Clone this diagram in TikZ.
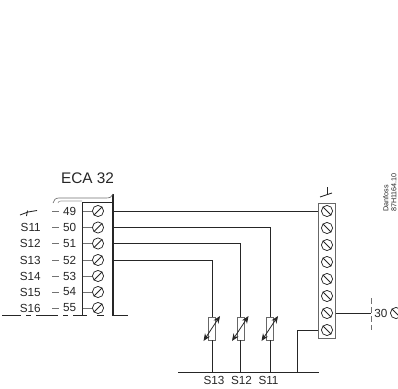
\documentclass[tikz,border=0pt]{standalone}
\usepackage{fontspec}
\setmainfont{Liberation Sans}
\usetikzlibrary{arrows.meta}
\definecolor{ink}{gray}{0.15}
\tikzset{
  wire/.style={draw=ink,line width=0.65pt},
  thin wire/.style={draw=ink!65,line width=0.5pt},
  lbl/.style={font=\fontsize{8.8pt}{9pt}\selectfont,text=ink,inner sep=0pt},
  term/.style={circle,draw=ink,line width=0.55pt,minimum size=8.4pt,inner sep=0pt},
  res/.style={draw=ink!70,fill=white,line width=0.5pt,minimum width=5.2pt,minimum height=17pt,inner sep=0pt},
  vararrow/.style={draw=ink,line width=0.6pt,{Stealth[length=5.5pt,width=4.5pt]}-{Stealth[length=5.5pt,width=4.5pt]}},
}
\begin{document}
\begin{tikzpicture}[x=0.75pt,y=-0.75pt]
\useasboundingbox (0,0) rectangle (398,388);
% left terminal strip
\coordinate (ltl) at (82.5,202.5);
\coordinate (ltr) at (113,202.5);
\coordinate (lbl1) at (82.5,315);
\coordinate (lbr) at (113,315);
\coordinate (lbt) at (113,194);
\draw[wire,line width=0.8pt] (lbl1) -- (ltl) -- (ltr);
\draw[wire,line width=1.1pt] (lbt) -- (lbr);
% brace
\draw[thin wire] (53,203) .. controls (54,200) and (55,198) .. (59,198) -- (106,198) .. controls (110,198) and (112,197) .. (113,194);
\draw[thin wire,draw=ink!45] (58,203) .. controls (58,202) and (59,201) .. (61,201) -- (82,201);
\node[lbl,font=\fontsize{11.5pt}{12pt}\selectfont] (title) at (87.5,178) {ECA 32};
% left terminals
\foreach \n/\y/\s in {49/211/,50/227.5/S11,51/243.5/S12,52/260/S13,53/276/S14,54/292/S15,55/308/S16}{
  \node[term] (t\n) at (98,\y) {};
  \draw[line width=0.55pt,draw=ink] (t\n.south west) -- (t\n.north east);
  \coordinate (tl\n) at (83,\y);
  \draw[thin wire] (tl\n) -- (t\n.west);
  \node[lbl,anchor=east] (n\n) at (76.5,\y) {\n};
  \coordinate (da\n) at (52,\y);
  \coordinate (db\n) at (59,\y);
  \draw[thin wire] (da\n) -- (db\n);
  \node[lbl,anchor=east] (s\n) at (41,\y) {\s};
}
% bottom broken line
\foreach \a/\b in {2/21,26/31,36/58,63/68,73/87,97/104,112/128}{
  \coordinate (ba\a) at (\a,315);
  \coordinate (bb\a) at (\b,315);
  \draw[wire] (ba\a) -- (bb\a);
}
% left ground symbol
\coordinate (ga) at (20,215);\coordinate (gb) at (28,212);\coordinate (gc) at (37,210.5);
\draw[wire] (ga) -- (gb) -- (gc);
\draw[wire] (27.5,210.5) -- (26.5,216);
% right terminal strip
\node[draw=ink!70,line width=0.7pt,minimum width=12.8pt,minimum height=101.5pt,inner sep=0pt,anchor=north west] (strip) at (318,203) {};
\foreach \i/\y in {1/211,2/228,3/245,4/262,5/279,6/296,7/313,8/330}{
  \node[term] (r\i) at (327,\y) {};
  \draw[line width=0.55pt,draw=ink] (r\i.north west) -- (r\i.south east);
  \coordinate (re\i) at (318,\y);
}
% right ground
\coordinate (rgt) at (327,187);
\coordinate (rgb) at (327,195);
\draw[wire] (rgt) -- (rgb);
\draw[wire] (320,197) -- (332,193);
% wires
\coordinate (w49) at (113,211);
\draw[wire] (w49) -- (re1);
\coordinate (bL) at (178,372);
\coordinate (bR) at (319,372);
\draw[wire] (bL) -- (bR);
\foreach \w/\y/\x/\lab/\lx in {50/227.5/270/S11/268.5,51/243.5/240.5/S12/241.5,52/260/212/S13/214}{
  \node[res] (res\w) at (\x,328.5) {};
  \draw[wire] (113,\y) -- (\x,\y) -- (res\w.north);
  \draw[wire] (res\w.south) -- (\x,372);
  \draw[vararrow] (\x-8.5,341) -- (\x+8,316);
  \node[lbl,anchor=north] (lab\w) at (\lx,376) {\lab};
}
\draw[wire] (re8) -- (297,330) -- (297,372);
% terminal 30
\coordinate (ex) at (371,313);
\draw[wire] (strip.east |- r7) -- (ex);
\coordinate (exa) at (371,298);
\coordinate (exb) at (371,330);
\draw[thin wire,dash pattern=on 4.5pt off 2.2pt] (exa) -- (exb);
\node[lbl,anchor=west] (n30) at (374,313) {30};
\node[term] (t30) at (396,313) {};
\draw[line width=0.55pt,draw=ink] (t30.north west) -- (t30.south east);
% code
\node[rotate=90,font=\fontsize{5.4pt}{6pt}\selectfont,text=ink,align=left,inner sep=0pt,anchor=north west] (code) at (383,212) {Danfoss\\87H1164.10};
\end{tikzpicture}
\end{document}
